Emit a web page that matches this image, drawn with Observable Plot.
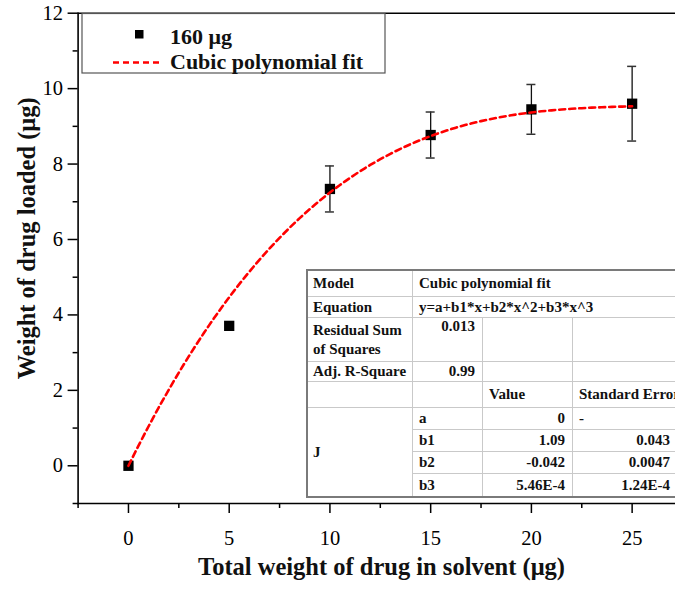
<!DOCTYPE html>
<html>
<head>
<meta charset="utf-8">
<script src="https://cdn.jsdelivr.net/npm/d3@7"></script>
<script src="https://cdn.jsdelivr.net/npm/@observablehq/plot@0.6"></script>
<style>
  html, body { margin: 0; padding: 0; background: #fff; overflow: hidden; }
  #wrap { position: relative; width: 675px; height: 590px; overflow: hidden; }
  #wrap svg { display: block; }
  .cell {
    position: absolute; box-sizing: border-box; overflow: hidden;
    border-right: 1px solid #c9c9c9; border-bottom: 1px solid #c9c9c9;
    background: #fff; display: flex; align-items: center;
    font: bold 15px "Liberation Serif", "Times New Roman", serif;
    color: #111; white-space: nowrap; line-height: 17px;
    padding: 0 7px 0 6px;
  }
  .cell.right { justify-content: flex-end; }
  .cell.top { align-items: flex-start; }
  .cell.wrap { white-space: normal; line-height: 19px; }
  #tableBorder {
    position: absolute; box-sizing: border-box; pointer-events: none;
    border-left: 2px solid #7a7a7a; border-top: 2px solid #7a7a7a; border-bottom: 2px solid #7a7a7a;
  }
</style>
</head>
<body>
<div id="wrap"></div>
<script>
// Drug loading measurements (µg) with standard deviations
const totalDrug = [0, 5, 10, 15, 20, 25];
const drugLoaded = [0, 3.71, 7.34, 8.77, 9.45, 9.60];
const loadedErr = [0, 0, 0.61, 0.61, 0.66, 0.99];

// Axis ticks
const xTicks = [0, 5, 10, 15, 20, 25];
const xMinorTicks = [-2.5, 2.5, 7.5, 12.5, 17.5, 22.5];
const yTicks = [0, 2, 4, 6, 8, 10, 12];
const yMinorTicks = [-1, 1, 3, 5, 7, 9, 11];

// Fit report
const fitModel = "Cubic polynomial fit";
const fitEquation = "y=a+b1*x+b2*x^2+b3*x^3";
const residualSS = "0.013";
const adjRSquare = "0.99";
const paramNames = ["a", "b1", "b2", "b3"];
const paramValues = ["0", "1.09", "-0.042", "5.46E-4"];
const paramErrors = ["-", "0.043", "0.0047", "1.24E-4"];

const seriesName = "160 μg";
const xTitle = "Total weight of drug in solvent (μg)";
const yTitle = "Weight of drug loaded (μg)";

const serif = "'Liberation Serif', 'Times New Roman', serif";

const points = totalDrug.map((x, i) => ({x, y: drugLoaded[i], err: loadedErr[i]}));
const bars = points.filter(d => d.err > 0);

// Fitted cubic from the reported coefficients
const [a, b1, b2, b3] = paramValues.map(Number);
const fitCurve = d3.range(0, 25.0001, 0.25).map(x => ({x, y: a + b1 * x + b2 * x * x + b3 * x * x * x}));

const chart = Plot.plot({
  width: 675,
  height: 590,
  marginLeft: 77.6,
  marginRight: 0,
  marginTop: 12.7,
  marginBottom: 87,
  style: {fontFamily: serif, background: "#fff", color: "#000"},
  x: {domain: [-2.5, 27.5], range: [77.6, 682]},
  y: {domain: [-1, 12], range: [503, 12.7]},
  marks: [
    // minor ticks
    Plot.axisX({ticks: xMinorTicks, tickSize: 5, strokeWidth: 1.5, tickFormat: () => "", label: null}),
    Plot.axisY({ticks: yMinorTicks, tickSize: 5, strokeWidth: 1.5, tickFormat: () => "", label: null}),
    // major ticks with labels
    Plot.axisX({ticks: xTicks, tickSize: 10, tickPadding: 17, strokeWidth: 1.5, fontSize: 20.5, label: null, tickFormat: d3.format("d")}),
    Plot.axisY({ticks: yTicks, tickSize: 10, tickPadding: 5, strokeWidth: 1.5, fontSize: 20.5, label: null, tickFormat: d3.format("d")}),
    // frame lines
    Plot.frame({anchor: "left", strokeWidth: 1.6}),
    Plot.frame({anchor: "bottom", strokeWidth: 1.6}),
    Plot.frame({anchor: "top", strokeWidth: 1.6}),
    // error bars with caps
    Plot.ruleX(bars, {x: "x", y1: d => d.y - d.err, y2: d => d.y + d.err, stroke: "#111", strokeWidth: 1.3}),
    Plot.ruleY(bars, {y: d => d.y - d.err, x1: "x", x2: "x", insetLeft: -4.5, insetRight: -4.5, stroke: "#333", strokeWidth: 1.5}),
    Plot.ruleY(bars, {y: d => d.y + d.err, x1: "x", x2: "x", insetLeft: -4.5, insetRight: -4.5, stroke: "#333", strokeWidth: 1.5}),
    // measured points
    Plot.dot(points, {x: "x", y: "y", symbol: "square", r: 5.8, fill: "#000", stroke: "none"}),
    // fitted curve
    Plot.line(fitCurve, {x: "x", y: "y", stroke: "#ff0000", strokeWidth: 2.6, strokeDasharray: "6,4", curve: "linear"}),
    // axis titles
    Plot.text([xTitle], {frameAnchor: "bottom", textAnchor: "middle", dx: 4.7, dy: 71, fontSize: 24.5, fontWeight: "bold", fill: "#111"}),
    Plot.text([yTitle], {frameAnchor: "left", textAnchor: "middle", rotate: -90, dx: -51, dy: -20, fontSize: 24.5, fontWeight: "bold", fill: "#111"})
  ]
});

document.getElementById("wrap").appendChild(chart);

// Legend box in the upper-left corner of the plot area
const svg = d3.select(chart);
const legend = svg.append("g")
  .attr("font-family", serif).attr("font-weight", "bold").attr("font-size", 22)
  .attr("fill", "#111").attr("text-anchor", "start");
legend.append("rect").attr("x", 82).attr("y", 13.5).attr("width", 303).attr("height", 59.5)
  .attr("fill", "#fff").attr("stroke", "#555").attr("stroke-width", 1.2);
legend.append("rect").attr("x", 135).attr("y", 30).attr("width", 8.5).attr("height", 8.5).attr("fill", "#000");
legend.append("text").attr("x", 170).attr("y", 43.5).text(seriesName);
legend.append("line").attr("x1", 113).attr("x2", 161).attr("y1", 62.5).attr("y2", 62.5)
  .attr("stroke", "#ff0000").attr("stroke-width", 2.6).attr("stroke-dasharray", "6,4");
legend.append("text").attr("x", 170).attr("y", 68.5).text(fitModel);

// Fit report table
const wrap = document.getElementById("wrap");
const cols = [307, 413, 483, 573, 678];
const rows = [270, 297, 318, 362, 381.5, 408, 430, 452, 474, 497];
function cell(r0, r1, c0, c1, text, cls = "") {
  const el = document.createElement("div");
  el.className = "cell " + cls;
  el.style.left = cols[c0] + "px";
  el.style.top = rows[r0] + "px";
  el.style.width = (cols[c1] - cols[c0]) + "px";
  el.style.height = (rows[r1] - rows[r0]) + "px";
  el.textContent = text;
  wrap.appendChild(el);
}
cell(0, 1, 0, 1, "Model");
cell(0, 1, 1, 4, fitModel);
cell(1, 2, 0, 1, "Equation");
cell(1, 2, 1, 4, fitEquation);
cell(2, 3, 0, 1, "Residual Sum of Squares", "wrap");
cell(2, 3, 1, 2, residualSS, "right top");
cell(2, 3, 2, 3, "");
cell(2, 3, 3, 4, "");
cell(3, 4, 0, 1, "Adj. R-Square");
cell(3, 4, 1, 2, adjRSquare, "right");
cell(3, 4, 2, 3, "");
cell(3, 4, 3, 4, "");
cell(4, 5, 0, 1, "");
cell(4, 5, 1, 2, "");
cell(4, 5, 2, 3, "Value");
cell(4, 5, 3, 4, "Standard Error");
cell(5, 9, 0, 1, "J");
paramNames.forEach((name, i) => {
  cell(5 + i, 6 + i, 1, 2, name);
  cell(5 + i, 6 + i, 2, 3, paramValues[i], "right");
  cell(5 + i, 6 + i, 3, 4, paramErrors[i], paramErrors[i] === "-" ? "" : "right");
});
const border = document.createElement("div");
border.id = "tableBorder";
border.style.left = (cols[0] - 1) + "px";
border.style.top = (rows[0] - 1) + "px";
border.style.width = (cols[4] - cols[0] + 2) + "px";
border.style.height = (rows[9] - rows[0] + 2) + "px";
wrap.appendChild(border);
</script>
</body>
</html>
